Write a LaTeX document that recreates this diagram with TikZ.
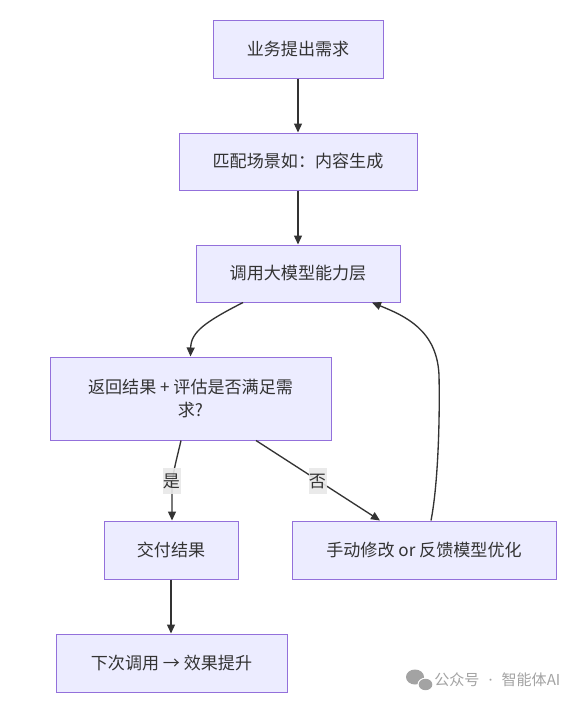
\documentclass[tikz,border=0pt]{standalone}
\usepackage{fontspec}
\setmainfont{Noto Sans CJK SC}
\newfontfamily\latinfont{Noto Sans}
\usetikzlibrary{arrows.meta,calc}
\newlength\px \setlength\px{0.75pt}
\definecolor{nodefill}{HTML}{ECECFF}
\definecolor{nodeline}{HTML}{9370DB}
\definecolor{edgecol}{HTML}{333333}
\definecolor{lblfill}{HTML}{E8E8E8}
\definecolor{wmcol}{HTML}{A3A3A3}
\tikzset{
  box/.style={draw=nodeline, fill=nodefill, line width=0.75pt, inner sep=0pt,
    text=edgecol, font=\fontsize{12.8}{17}\selectfont, align=center},
  edge/.style={draw=edgecol, line width=1pt, -{Triangle[length=6.75pt,width=6pt]}},
  lbl/.style={fill=lblfill, fill opacity=0.9, text opacity=1, text=edgecol, inner sep=0pt,
    minimum width=13.5pt, minimum height=19.5pt, font=\fontsize{12.8}{14}\selectfont}
}
\begin{document}
\begin{tikzpicture}[x=0.75pt,y=-0.75pt]
\useasboundingbox (0,0) rectangle (585,703);
\fill[white] (0,0) rectangle (585,703);
\node[box, minimum width=170\px, minimum height=58\px] (n1) at (298,49) {业务提出需求};
\node[box, minimum width=238\px, minimum height=57\px] (n2) at (298,161.5) {匹配场景如：内容生成};
\node[box, minimum width=204\px, minimum height=57\px] (n3) at (298,273.5) {调用大模型能力层};
\node[box, minimum width=281\px, minimum height=83\px] (n4) at (190.5,398.5) {返回结果 + 评估是否满足需\\求?};
\node[box, minimum width=134\px, minimum height=58\px] (n5) at (171,550) {交付结果};
\node[box, minimum width=264\px, minimum height=58\px] (n6) at (424,550) {手动修改 or 反馈模型优化};
\node[box, minimum width=231\px, minimum height=58\px] (n7) at (171.5,663) {下次调用 → 效果提升};

\draw[edge] (n1.south) -- (n2.north);
\draw[edge] (n2.south) -- (n3.north);
\draw[edge] ($(n3.south)+(-55,0)$) .. controls (205,322) and (191,332) .. (n4.north);
\draw[edge] ($(n4.south)+(-9.5,0)$) .. controls (176,462) and (172,475) .. (172,490) -- ($(n5.north)+(1,0)$);
\draw[edge] ($(n4.south)+(65.5,0)$) -- ($(n6.north)+(-44,0)$);
\draw[edge] ($(n6.north)+(7,0)$) .. controls (438,485) and (440,420) .. (439,375)
   .. controls (437,330) and (405,316) .. ($(n3.south)+(74,0)$);
\draw[edge] (n5.south) -- (n5.south |- n7.north);

\node[lbl] (l1) at (171.5,481) {是};
\node[lbl] (l2) at (317.5,481) {否};

% watermark
\fill[wmcol] (415,677) ellipse [x radius=9, y radius=7.5];
\fill[white] (425.5,684.5) ellipse [x radius=8, y radius=6.8];
\fill[wmcol] (425.5,684.5) ellipse [x radius=6.8, y radius=5.7];
\node[text=wmcol, anchor=west, inner sep=0pt, font=\fontsize{11.3}{12}\selectfont] (wm) at (434,680) {公众号{\latinfont\hspace{0.6em}·\hspace{0.6em}}智能体AI};
\end{tikzpicture}
\end{document}
